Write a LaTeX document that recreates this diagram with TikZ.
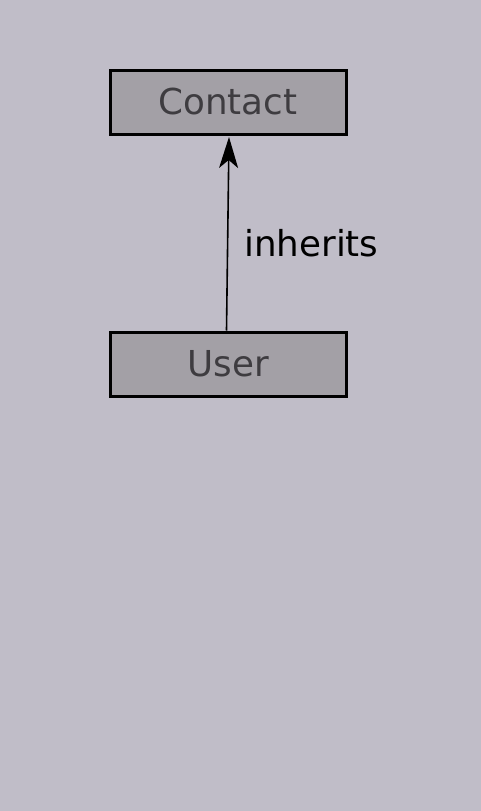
\documentclass[tikz,border=0pt]{standalone}
\usepackage{fontspec}
\setmainfont{DejaVu Sans}
\usetikzlibrary{arrows.meta}
\definecolor{bg}{RGB}{192,189,200}
\definecolor{boxfill}{RGB}{163,160,166}
\definecolor{boxtext}{RGB}{62,60,64}
\begin{document}
\begin{tikzpicture}[x=1pt,y=-1pt,
  cls/.style={draw=black,line width=3pt,fill=boxfill,text=boxtext,minimum width=236pt,minimum height=64pt,inner sep=0pt,font=\fontsize{35.7}{40}\selectfont},
  lbl/.style={text=black,font=\fontsize{35.7}{40}\selectfont,inner sep=0pt,anchor=west}]
\fill[bg] (0,0) rectangle (481,811);
\useasboundingbox (0,0) rectangle (481,811);
\node[cls] (contact) at (228,102) {Contact};
\node[cls] (user) at (228,364) {User};
\coordinate (s) at (226.5,330.5);
\coordinate (e) at (229,137);
\draw[line width=1.6pt,-{Stealth[length=31pt,width=19pt,inset=8pt]}] (s) -- (e);
\node[lbl] (inh) at (244,243) {inherits};
\end{tikzpicture}
\end{document}
